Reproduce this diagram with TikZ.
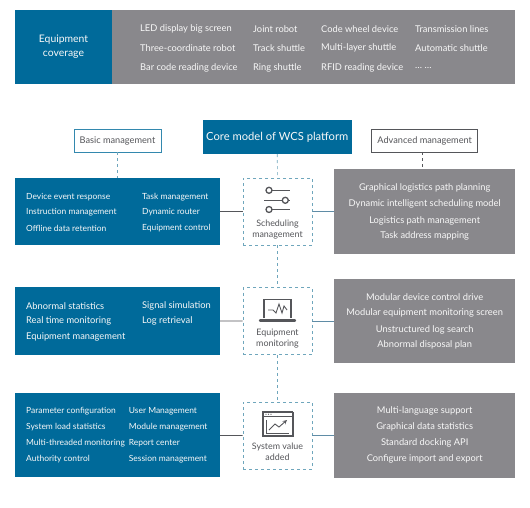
\documentclass[tikz,border=0pt]{standalone}
\usepackage{fontspec}
\setmainfont{Lato}
\definecolor{wcsblue}{HTML}{006A9A}
\definecolor{wcsgray}{HTML}{89888C}
\definecolor{wcsdark}{HTML}{55565A}
\definecolor{wcsdash}{HTML}{6FA6BC}
\definecolor{wcsline}{HTML}{5F8CA6}
\tikzset{
  bluebox/.style={fill=wcsblue,inner sep=0pt},
  graybox/.style={fill=wcsgray,inner sep=0pt},
  item/.style={text=white!94!wcsgray,inner sep=0pt,font=\fontsize{9.3}{10}\selectfont},
  leftitem/.style={item,anchor=west},
  smallitem/.style={leftitem,font=\fontsize{8.45}{10}\selectfont},
  tagbox/.style={draw,line width=0.9pt,fill=white,inner sep=0pt,text=wcsdark,font=\fontsize{9.2}{10}\selectfont},
  dashbox/.style={draw=wcsdash,dashed,line width=0.7pt,fill=white,inner sep=0pt,minimum width=69,minimum height=67},
  dashline/.style={draw=wcsdash,dashed,line width=0.7pt},
  rowline/.style={draw=wcsdark,line width=0.7pt},
  iconlabel/.style={text=wcsdark,inner sep=0pt,align=center,font=\fontsize{8.9}{11}\selectfont},
  icon/.style={draw=wcsdark,line width=1.3pt}
}
\begin{document}
\begin{tikzpicture}[x=1pt, y=-1pt]
  \useasboundingbox (0,0) rectangle (530,508);
  % equipment band
  \node[bluebox,minimum width=97,minimum height=74] (cover) at (63.5,47) [align=center,text=white!94!wcsgray,font=\fontsize{10.4}{14}\selectfont] {Equipment\\coverage};
  \node[graybox,minimum width=403,minimum height=74] (range) at (313.5,47) {};
  \foreach \x/\y/\t in {140/29/LED display big screen,140/48/Three-coordinate robot,140/68/Bar code reading device,
      253/29/Joint robot,253/48/Track shuttle,253/68/Ring shuttle,
      321/29/Code wheel device,321/48/Multi-layer shuttle,321/68/RFID reading device,
      415/29/Transmission lines,415/48/Automatic shuttle,415/68/\ldots\ \ldots}{%
    \node[leftitem] (E-\x-\y) at (\x,\y) {\t};
  }
  % heads
  \node[bluebox,minimum width=148.5,minimum height=34,text=white!94!wcsgray,font=\fontsize{11.2}{13}\selectfont] (core) at (277.25,137) {Core model of WCS platform};
  \node[tagbox,draw=wcsblue!80!white,minimum width=87,minimum height=23] (basic) at (117.5,140.5) {Basic management};
  \node[tagbox,draw=wcsdark,minimum width=106,minimum height=23] (adv) at (424.7,140.5) {Advanced management};
  \coordinate (adv-drop) at (422.7,152);
  % rows
  \node[bluebox,minimum width=205,minimum height=67.6] (L-1) at (117.5,211.5) {};
  \node[bluebox,minimum width=205,minimum height=67.7] (L-2) at (117.5,321.1) {};
  \node[bluebox,minimum width=205,minimum height=84] (L-3) at (117.5,435.3) {};
  \node[graybox,minimum width=180.4,minimum height=84.7] (R-1) at (424.5,211.6) {};
  \node[graybox,minimum width=180.4,minimum height=84.6] (R-2) at (424.5,321) {};
  \node[graybox,minimum width=180.4,minimum height=84.4] (R-3) at (424.5,435.5) {};
  \node[dashbox] (M-1) at (277.5,211.5) {};
  \node[dashbox] (M-2) at (277.5,321) {};
  \node[dashbox] (M-3) at (277.5,435.5) {};
  \foreach \i in {1,2,3}{%
    \path[rowline] (L-\i) -- (M-\i);
    \path[rowline,draw=wcsline] (M-\i) -- (R-\i);
  }
  \path[dashline] (core) -- (M-1);
  \path[dashline] (M-1) -- (M-2);
  \path[dashline] (M-2) -- (M-3);
  \path[dashline] (basic) -- (basic |- L-1.north);
  \path[dashline,draw=wcsdark] (adv-drop) -- (adv-drop |- R-1.north);
  % left lists
  \foreach \x/\y/\t in {26/197/Device event response,26/212/Instruction management,26/228/Offline data retention,
      142/197/Task management,142/212/Dynamic router,142/228/Equipment control,
      26/411.3/Parameter configuration,26/427/System load statistics,26/443/Multi-threaded monitoring,26/459/Authority control,
      128.7/411.3/User Management,128.7/427/Module management,128.7/443/Report center,128.7/459/Session management}{%
    \node[smallitem] at (\x,\y) {\t};
  }
  \foreach \x/\y/\t in {26/306/Abnormal statistics,26/321/Real time monitoring,26/337/Equipment management,
      142/306/Signal simulation,142/321/Log retrieval}{%
    \node[leftitem] (T-\x-\y) at (\x,\y) {\t};
  }
  % right lists
  \foreach \y/\t in {188/Graphical logistics path planning,204/Dynamic intelligent scheduling model,220.5/Logistics path management,236/Task address mapping,
      297/Modular device control drive,313/Modular equipment monitoring screen,329.5/Unstructured log search,345/Abnormal disposal plan,
      411/Multi-language support,427/Graphical data statistics,443/Standard docking API,459/Configure import and export}{%
    \node[item] at (424.7,\y) {\t};
  }
  % middle labels
  \node[iconlabel] (lab-1) at (277.5,229.5) {Scheduling\\management};
  \node[iconlabel] (lab-2) at (277.5,338.5) {Equipment\\monitoring};
  \node[iconlabel] (lab-3) at (277.5,452) {System value\\added};
  % sliders
  \draw[icon] (272,190.3) -- (290,190.3) (264,200.3) -- (282.3,200.3) (288.3,200.3) -- (290,200.3) (272,209.5) -- (290,209.5);
  \draw[icon] (269,190.3) circle (3) (285.3,200.3) circle (3) (269,209.5) circle (3);
  % laptop
  \draw[icon,line width=1.6pt] (264,318) -- (264,299.5) -- (291,299.5) -- (291,318);
  \draw[wcsdark,line width=2.4pt,line cap=round] (260,320.5) -- (295,320.5);
  \draw[icon,line width=0.9pt] (268,310) -- (273,310) -- (276,313) -- (279,304) -- (282,313) -- (284,306) -- (287,310);
  % chart window
  \draw[icon] (262,412) -- (293,412) (263,412) -- (263,436) -- (293,436) -- (293,412);
  \draw[icon,line width=0.9pt] (263,416.5) -- (293,416.5);
  \fill[wcsdark] (266,414.2) circle (0.6) (268.5,414.2) circle (0.6) (271,414.2) circle (0.6);
  \draw[icon,line width=0.9pt] (266,420) -- (266,433) -- (289,433);
  \draw[icon,line width=0.9pt,-stealth] (269,430) -- (275,424) -- (279,427) -- (287,420);
\end{tikzpicture}
\end{document}
